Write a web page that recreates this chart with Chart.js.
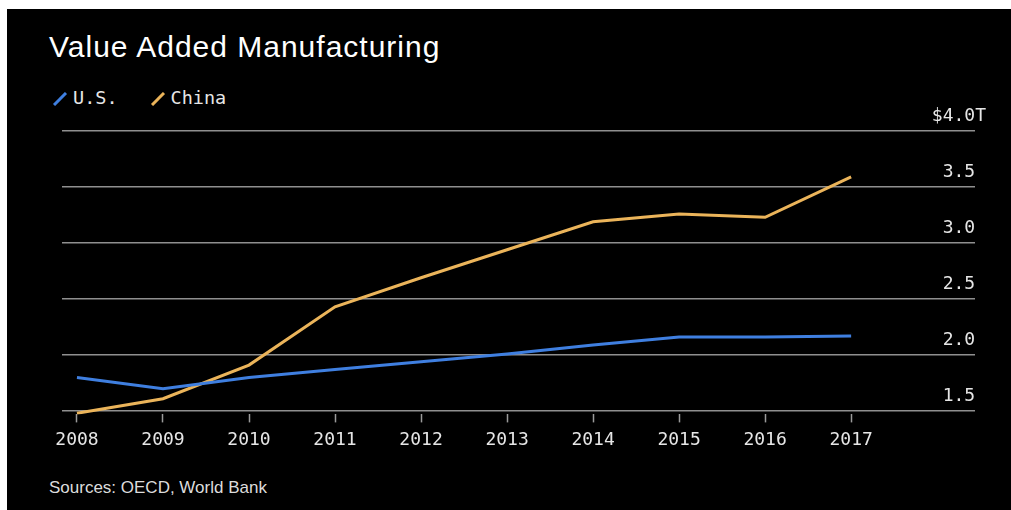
<!DOCTYPE html>
<html lang="en">
  <head>
    <meta charset="UTF-8" />
    <title>Value Added Manufacturing</title>
    <script src="https://cdn.jsdelivr.net/npm/chart.js"></script>
    <style>
      body { margin: 0; background: #fff; width: 1011px; height: 510px; overflow: hidden; position: relative; }
      .frame { position: absolute; left: 7px; top: 9px; right: 0; bottom: 0; background: #000; }
      .chart-box { position: absolute; left: 0; top: 0; width: 1011px; height: 510px; }
      .title {
        position: absolute; left: 49px; top: 32px; color: #fff;
        font: 30px/30px "Liberation Sans", Arial, sans-serif; letter-spacing: 1px; white-space: nowrap;
      }
      .legend {
        position: absolute; left: 52px; top: 88px; color: #e6e6e6;
        font: 18.5px/20px "DejaVu Sans Mono", monospace; white-space: nowrap;
      }
      .legend span { display: inline-block; vertical-align: top; }
      .legend svg { display: inline-block; vertical-align: top; margin-top: 4px; }
      .source {
        position: absolute; left: 49px; top: 479px; color: #dcdcdc;
        font: 17px/17px "Liberation Sans", Arial, sans-serif; white-space: nowrap;
      }
    </style>
  </head>
  <body>
    <div class="frame"></div>
    <div class="title">Value Added Manufacturing</div>
    <div class="legend" id="legend"></div>
    <div class="source">Sources: OECD, World Bank</div>
    <div class="chart-box">
      <canvas id="lineChart"></canvas>
    </div>
    <script>
      const years = [2008, 2009, 2010, 2011, 2012, 2013, 2014, 2015, 2016, 2017];
      // trillions of dollars
      const usValues = [1.8, 1.7, 1.8, 1.87, 1.94, 2.01, 2.09, 2.16, 2.16, 2.17];
      const chinaValues = [1.48, 1.61, 1.91, 2.43, 2.69, 2.94, 3.19, 3.26, 3.23, 3.59];
      const yTicks = [1.5, 2.0, 2.5, 3.0, 3.5, 4.0];

      const series = [
        { label: "U.S.", color: "#3f7fe0", values: usValues },
        { label: "China", color: "#ebb45a", values: chinaValues },
      ];

      // legend with little slash marks
      const legendEl = document.getElementById("legend");
      series.forEach((s, i) => {
        const svg =
          '<svg width="16" height="14" style="margin-left:' + (i ? 32 : 0) + 'px">' +
          '<line x1="2" y1="13" x2="14" y2="1" stroke="' + s.color + '" stroke-width="3" /></svg>';
        legendEl.insertAdjacentHTML("beforeend", svg + '<span style="margin-left:5px">' + s.label + "</span>");
      });

      const ctx = document.getElementById("lineChart").getContext("2d");

      const lineChart = new Chart(ctx, {
        type: "line",
        data: {
          datasets: series.map((s) => ({
            label: s.label,
            data: years.map((yr, i) => ({ x: yr, y: s.values[i] })),
            borderColor: s.color,
            borderWidth: 3,
            pointRadius: 0,
            tension: 0,
            fill: false,
          })),
        },
        options: {
          responsive: true,
          maintainAspectRatio: false,
          animation: false,
          layout: {
            padding: { left: 62, right: 14, top: 131, bottom: 52 },
          },
          plugins: {
            legend: { display: false },
            tooltip: { enabled: false },
          },
          scales: {
            x: {
              type: "linear",
              min: 2007.826,
              max: 2018.44,
              afterBuildTicks: (scale) => {
                scale.ticks = years.map((v) => ({ value: v }));
              },
              border: { display: false },
              grid: {
                drawOnChartArea: false,
                drawTicks: true,
                tickLength: 8,
                tickColor: "#9a9a9a",
                tickWidth: 1.5,
              },
              ticks: {
                padding: 7,
                color: "#e6e6e6",
                font: { family: "DejaVu Sans Mono", size: 18 },
                maxRotation: 0,
                callback: (v) => String(v),
              },
            },
            y: {
              position: "right",
              min: 1.47,
              max: 4.0,
              afterBuildTicks: (scale) => {
                scale.ticks = yTicks.map((v) => ({ value: v }));
              },
              border: { display: false },
              grid: {
                color: "#8f8f8f",
                lineWidth: 1.5,
                drawTicks: false,
              },
              ticks: {
                mirror: true,
                padding: 11,
                labelOffset: -15,
                color: "#e6e6e6",
                font: { family: "DejaVu Sans Mono", size: 18 },
                callback: (v) => (v === 4 ? "$4.0T" : v.toFixed(1) + " "),
              },
            },
          },
        },
      });
    </script>
  </body>
</html>
